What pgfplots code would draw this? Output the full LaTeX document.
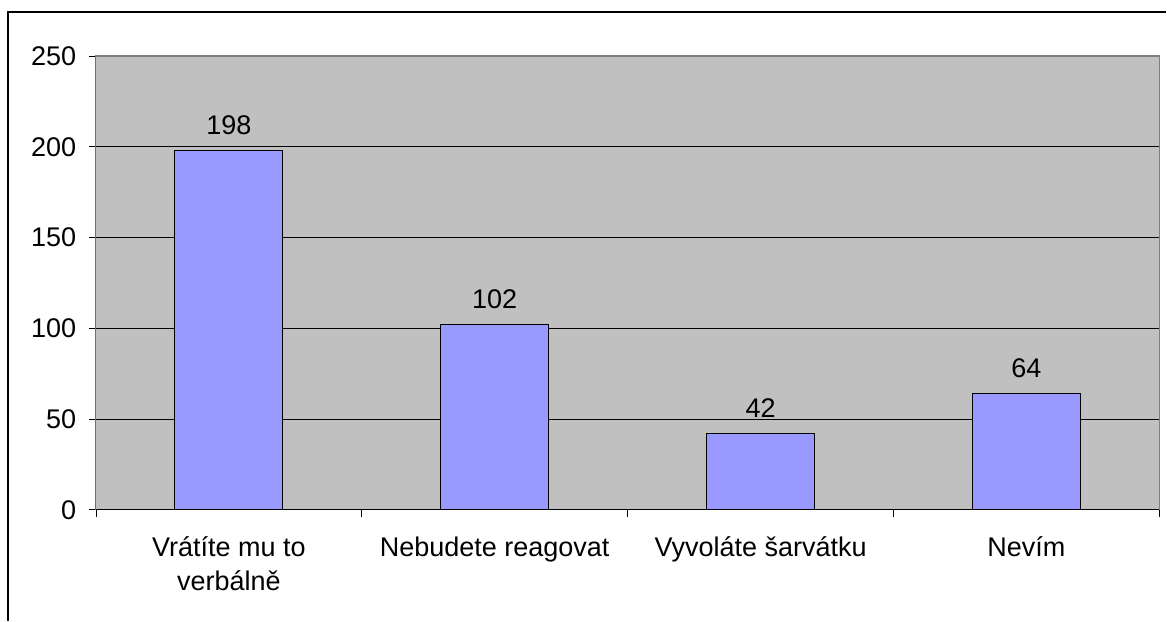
\documentclass[border=0pt]{standalone}
\usepackage{fontspec}
\setmainfont{Liberation Sans}
\usepackage{pgfplots}
\pgfplotsset{compat=1.18}
\definecolor{barblue}{HTML}{9999FF}
\definecolor{plotgray}{HTML}{C0C0C0}
\newcommand{\lf}{\fontsize{20.25}{25.5}\selectfont}
\begin{document}
\begin{tikzpicture}
\path (0pt,0pt) rectangle (875.25pt,465.75pt);
\draw[line width=0.9pt] (6pt,0pt) -- (6pt,456.75pt) -- (875.25pt,456.75pt);
\begin{axis}[
 at={(72pt,83.25pt)}, anchor=south west,
 scale only axis, width=798pt, height=340.5pt,
 xmin=0, xmax=4, ymin=0, ymax=250,
 ytick={0,50,...,250},
 ymajorgrids, grid style={black, line width=0.6pt},
 axis background/.style={fill=plotgray},
 axis line style={draw=gray, line width=0.8pt},
 xtick={0,1,2,3,4}, xticklabels={},
 extra x ticks={0.5,1.5,2.5,3.5},
 extra x tick labels={{Vrátíte mu to\\verbálně},{Nebudete reagovat},{Vyvoláte šarvátku},{Nevím}},
 extra x tick style={major tick length=0pt, grid=none},
 xticklabel style={align=center, font=\lf, yshift=-17pt},
 yticklabel style={font=\lf, xshift=-6pt},
 /pgf/number format/assume math mode=true,
 tick align=outside, xtick pos=bottom, ytick pos=left,
 tick style={black, line width=0.6pt},
 major tick length=5.25pt,
 ybar, bar width=0.406,
 nodes near coords,
 every node near coord/.append style={font=\lf, yshift=8pt},
]
\addplot[fill=barblue, draw=black, line width=0.8pt] coordinates {(0.5,198) (1.5,102) (2.5,42) (3.5,64)};
\draw[black, line width=0.8pt] (axis cs:0,0) -- (axis cs:4,0);
\draw[black, line width=0.8pt] (axis cs:0,0) -- (axis cs:0,250);
\end{axis}
\end{tikzpicture}
\end{document}
